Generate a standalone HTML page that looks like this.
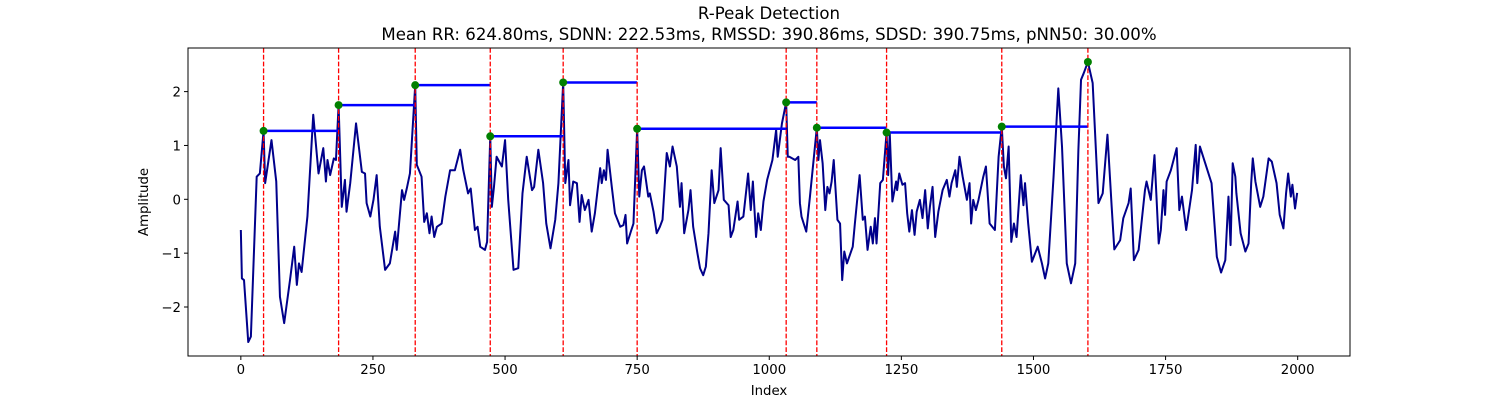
<!DOCTYPE html>
<html><head><meta charset="utf-8"><style>
body{margin:0;background:#fff;}
svg{display:block;font-family:"DejaVu Sans","Liberation Sans",sans-serif;}
</style></head><body>
<svg id="chart" width="1500" height="400" viewBox="0 0 1500 400" xmlns="http://www.w3.org/2000/svg">
<text x="769" y="19" text-anchor="middle" font-size="16.6">R-Peak Detection</text>
<text x="769" y="40" text-anchor="middle" font-size="16.6">Mean RR: 624.80ms, SDNN: 222.53ms, RMSSD: 390.86ms, SDSD: 390.75ms, pNN50: 30.00%</text>
<g id="plot"></g>
<rect x="188" y="48" width="1162" height="308" fill="none" stroke="#000" stroke-width="1"/>
<text x="769" y="395" text-anchor="middle" font-size="13.3">Index</text>
<text transform="translate(148,202) rotate(-90)" text-anchor="middle" font-size="13.3">Amplitude</text>
</svg>
<script>
const sigIdx = [0,2,6,14,19,30,36,43,46,52,58,67,74,82,93,101,106,110,115,126,137,147,156,161,164,169,176,180,185,191,197,200,207,218,229,235,238,245,251,257,263,273,282,292,295,305,309,314,320,330,333,342,347,352,357,361,366,371,380,387,396,405,415,421,430,435,443,448,453,462,466,472,475,479,484,494,500,506,516,525,533,541,551,555,563,572,578,586,595,601,610,614,620,623,629,636,641,645,651,658,664,670,680,683,687,691,694,702,708,718,724,728,731,738,743,750,754,759,763,771,774,781,787,793,798,806,812,817,825,831,834,839,847,851,856,864,869,875,880,885,891,896,904,908,914,923,927,932,940,943,951,960,965,969,975,979,984,989,996,1006,1013,1016,1024,1032,1035,1038,1049,1055,1058,1061,1070,1077,1090,1093,1096,1101,1106,1110,1114,1118,1122,1129,1134,1138,1142,1147,1158,1162,1171,1177,1181,1186,1192,1196,1200,1203,1210,1215,1222,1225,1228,1233,1240,1242,1246,1252,1257,1261,1265,1270,1275,1279,1285,1290,1295,1300,1304,1309,1314,1320,1328,1336,1341,1345,1352,1355,1360,1366,1374,1379,1382,1386,1391,1396,1405,1410,1417,1427,1434,1440,1444,1448,1453,1458,1463,1468,1476,1481,1484,1490,1497,1508,1516,1522,1528,1538,1547,1554,1563,1571,1579,1585,1590,1595,1603,1612,1623,1631,1640,1648,1653,1664,1670,1680,1684,1690,1699,1711,1714,1722,1729,1737,1741,1746,1749,1752,1760,1771,1776,1781,1789,1800,1807,1810,1815,1825,1837,1847,1855,1863,1869,1873,1877,1882,1884,1892,1901,1907,1912,1915,1920,1929,1935,1945,1951,1960,1966,1973,1978,1982,1987,1990,1995,1999];
const sigVal = [-0.57,-1.47,-1.5,-2.65,-2.55,0.42,0.48,1.27,0.3,0.7,1.1,0.33,-1.81,-2.3,-1.5,-0.88,-1.59,-1.19,-1.35,-0.32,1.57,0.48,0.95,0.33,0.73,0.45,0.76,0.73,1.75,-0.14,0.36,-0.23,0.3,1.41,0.51,0.48,-0.07,-0.32,-0.01,0.45,-0.51,-1.31,-1.19,-0.6,-0.94,0.17,-0.01,0.2,0.48,2.12,0.64,0.42,-0.42,-0.26,-0.63,-0.32,-0.7,-0.51,-0.45,0.05,0.54,0.54,0.92,0.54,0.11,0.2,-0.57,-0.51,-0.88,-0.94,-0.79,1.17,-0.14,0.23,0.79,0.61,1.1,-0.01,-1.31,-1.28,0.11,0.79,0.17,0.23,0.92,0.3,-0.45,-0.91,-0.38,0.3,2.17,0.3,0.73,-0.11,0.33,0.3,-0.42,0.08,-0.2,-0.01,-0.6,-0.26,0.58,0.3,0.54,0.36,0.92,0.23,-0.26,-0.51,-0.48,-0.29,-0.82,-0.6,-0.45,1.31,0.05,0.54,0.61,0.05,0.11,-0.23,-0.63,-0.51,-0.38,0.86,0.61,0.98,0.61,-0.14,0.3,-0.63,-0.2,0.17,-0.51,-1.0,-1.28,-1.41,-1.25,-0.63,0.54,-0.07,0.17,0.95,-0.01,-0.11,-0.7,-0.57,-0.04,-0.38,-0.32,0.48,-0.2,0.33,-0.7,-0.26,-0.57,-0.04,0.36,0.73,1.29,0.79,1.41,1.8,0.79,0.79,0.73,0.79,-0.07,-0.32,-0.6,0.05,1.33,0.73,1.1,0.67,-0.2,0.23,0.11,0.33,0.73,-0.38,-0.45,-1.5,-0.97,-1.19,-0.88,-0.45,0.45,-0.38,-0.32,-0.94,-0.51,-0.82,-0.35,-0.82,0.3,0.36,1.24,0.45,1.23,-0.04,0.33,0.17,0.48,0.27,0.3,-0.26,-0.6,-0.2,-0.66,-0.23,-0.01,-0.35,0.17,-0.54,-0.14,0.23,-0.7,-0.23,0.17,0.36,0.05,0.3,0.54,0.23,0.79,0.42,-0.01,0.3,-0.45,-0.01,-0.2,-0.01,0.42,0.61,-0.45,-0.57,0.79,1.35,0.61,0.39,0.98,-0.79,-0.45,-0.7,0.45,-0.11,0.3,-0.45,-1.16,-0.88,-1.19,-1.47,-1.19,0.42,2.06,0.98,-1.19,-1.56,-1.19,0.92,2.22,2.34,2.55,2.16,-0.07,0.11,1.2,-0.14,-0.93,-0.76,-0.35,-0.07,0.2,-1.13,-0.94,0.17,0.33,-0.01,0.82,-0.82,-0.57,0.17,-0.29,0.33,0.54,0.95,-0.2,0.05,-0.57,0.17,1.01,0.3,0.98,0.67,0.3,-1.07,-1.36,-1.13,0.05,-0.85,0.67,0.42,0.11,-0.63,-0.97,-0.82,0.3,0.76,0.33,-0.14,0.05,0.76,0.7,0.3,-0.29,-0.54,0.11,0.48,0.05,0.27,-0.17,0.12];
const peakIdx = [43,185,330,472,610,750,1032,1090,1222,1440,1603];
const peakVal = [1.27,1.75,2.12,1.17,2.17,1.31,1.8,1.33,1.24,1.35,2.55];
const xTicks = [0,250,500,750,1000,1250,1500,1750,2000];
const yTicks = [-2,-1,0,1,2];

const NS = "http://www.w3.org/2000/svg";
const L=188,R=1350,T=48,B=356;
const xMin=-100,xMax=2099;
let vmin=Math.min(...sigVal),vmax=Math.max(...sigVal);
const pad=(vmax-vmin)*0.05;
const yMin=vmin-pad,yMax=vmax+pad;
const xs=v=>L+(v-xMin)/(xMax-xMin)*(R-L);
const ys=v=>B-(v-yMin)/(yMax-yMin)*(B-T);
const g=document.getElementById('plot');
function mk(tag,attrs){const e=document.createElementNS(NS,tag);for(const k in attrs)e.setAttribute(k,attrs[k]);g.appendChild(e);return e;}

xTicks.forEach(t=>{
  const ln=mk('line',{x1:xs(t),x2:xs(t),y1:B,y2:B+4,stroke:'#000','stroke-width':1});
  
  
  const tx=mk('text',{x:xs(t),y:B+18,'text-anchor':'middle','font-size':'13.3'});
  tx.textContent=t;
  
  
});
yTicks.forEach(t=>{
  const ln=mk('line',{x1:L-4,x2:L,y1:ys(t),y2:ys(t),stroke:'#000','stroke-width':1});
  
  
  const tx=mk('text',{x:L-7,y:ys(t)+5,'text-anchor':'end','font-size':'13.3'});
  tx.textContent=(t<0?'\u2212'+(-t):t);
  
  
});

let d='';
sigIdx.forEach((v,i)=>{d+=(i?'L':'M')+xs(v).toFixed(2)+' '+ys(sigVal[i]).toFixed(2);});
const path=mk('path',{d:d,fill:'none',stroke:'#00008b','stroke-width':2,'stroke-linejoin':'round'});



for(let i=0;i<peakIdx.length-1;i++){
  const h=mk('line',{x1:xs(peakIdx[i]),x2:xs(peakIdx[i+1]),y1:ys(peakVal[i]),y2:ys(peakVal[i]),stroke:'#0000ff','stroke-width':2.5});
  
  
}
peakIdx.forEach((p,i)=>{
  const vl=mk('line',{x1:xs(p),x2:xs(p),y1:T,y2:B,stroke:'#ff0000','stroke-width':1.3,'stroke-dasharray':'4.8,2'});
  
  
});
peakIdx.forEach((p,i)=>{
  const c=mk('circle',{cx:xs(p),cy:ys(peakVal[i]),r:4,fill:'#008000'});
  
  
});
</script>
</body></html>
